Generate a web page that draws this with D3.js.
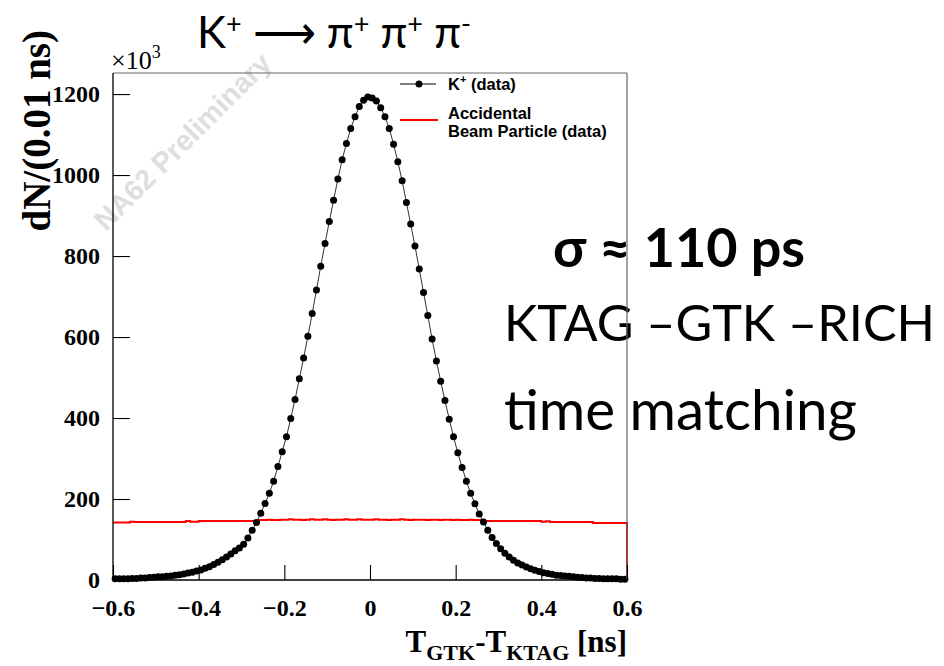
<!DOCTYPE html>
<html>
<head>
<meta charset="utf-8">
<script src="https://cdn.jsdelivr.net/npm/d3@7"></script>
<style>
  body { margin: 0; background: #fff; }
  svg { display: block; }
</style>
</head>
<body>
<svg id="chart" width="944" height="666"></svg>
<script>
// Histogram binning: 120 bins of 0.01 ns from -0.6 to 0.6 ns
const binLow = -0.6;
const binWidth = 0.01;

// K+ (data), entries per bin in units of 10^3
const kaonCounts = [
  3, 3, 3, 3, 4, 4, 5, 5, 6, 7,
  8, 8, 9, 10, 12, 13, 15, 17, 19, 22,
  25, 29, 33, 38, 44, 50, 57, 64, 72, 79,
  88, 104, 123, 142, 165, 189, 214, 244, 280, 317,
  354, 399, 446, 497, 548, 602, 658, 716, 775, 831,
  885, 938, 990, 1038, 1078, 1115, 1144, 1169, 1185, 1193,
  1190, 1183, 1166, 1144, 1115, 1076, 1033, 986, 932, 879,
  825, 768, 710, 653, 595, 541, 491, 443, 397, 354,
  314, 278, 244, 214, 188, 163, 143, 123, 105, 90,
  77, 66, 57, 49, 42, 37, 32, 28, 24, 21,
  18, 16, 14, 12, 11, 10, 9, 8, 7, 6,
  5, 5, 4, 4, 3, 3, 3, 3, 2, 2
];

// Accidental beam particle (data), entries per bin in units of 10^3
const accidentalCounts = [
  142, 142, 142, 142, 144, 143, 143, 143, 143, 143,
  143, 143, 143, 143, 143, 143, 143, 146, 144, 144,
  146, 146, 146, 146, 146, 146, 146, 146, 146, 146,
  146, 146, 146, 146, 148, 148, 149, 148, 148, 149,
  149, 150, 149, 149, 148, 149, 150, 149, 149, 150,
  149, 148, 149, 149, 150, 149, 149, 150, 149, 149,
  149, 150, 149, 149, 148, 149, 149, 150, 149, 148,
  149, 149, 149, 148, 149, 149, 148, 149, 149, 148,
  149, 148, 148, 149, 148, 148, 146, 146, 146, 146,
  146, 146, 146, 146, 146, 146, 146, 146, 146, 146,
  144, 145, 143, 143, 143, 143, 143, 143, 143, 143,
  143, 143, 141, 141, 141, 141, 141, 141, 141, 141
];

const xMajorTicks = [-0.6, -0.4, -0.2, 0, 0.2, 0.4, 0.6];
const yMajorTicks = [0, 200, 400, 600, 800, 1000, 1200];
const xMinorStep = 0.05;
const yMinorStep = 50;
const yMax = 1252;

const svg = d3.select("#chart");
const frame = { left: 113, right: 627, top: 73, bottom: 580 };

const x = d3.scaleLinear().domain([-0.6, 0.6]).range([frame.left, frame.right]);
const y = d3.scaleLinear().domain([0, yMax]).range([frame.bottom, frame.top]);

const serif = "'Liberation Serif', 'Times New Roman', serif";
const sans = "'Liberation Sans', Arial, sans-serif";
const slideFont = "Lato, 'Open Sans', 'Noto Sans', sans-serif";

// fit a text element's font size so that it spans the given width
function fitWidth(sel, width) {
  const node = sel.node();
  const fs = parseFloat(sel.attr("font-size"));
  const w = node.getComputedTextLength();
  sel.attr("font-size", (fs * width / w).toFixed(2));
}

// ---- slide annotations ----
const title = svg.append("text")
  .attr("x", 197).attr("y", 48)
  .attr("font-family", slideFont).attr("font-size", 38).attr("fill", "#000");
title.append("tspan").text("K");
title.append("tspan").attr("font-size", "0.62em").attr("dy", "-0.55em").text("+");
title.append("tspan").attr("dy", "0.34em").text(" \u27F6 \u03C0");
title.append("tspan").attr("font-size", "0.62em").attr("dy", "-0.55em").text("+");
title.append("tspan").attr("dy", "0.34em").text(" \u03C0");
title.append("tspan").attr("font-size", "0.62em").attr("dy", "-0.55em").text("+");
title.append("tspan").attr("dy", "0.34em").text(" \u03C0");
title.append("tspan").attr("font-size", "0.62em").attr("dy", "-0.55em").text("-");
fitWidth(title, 273);

const sigma = svg.append("text")
  .attr("x", 553).attr("y", 267)
  .attr("font-family", slideFont).attr("font-weight", "bold")
  .attr("font-size", 50).attr("fill", "#000")
  .text("\u03C3 \u2248 110 ps");
fitWidth(sigma, 252);

const line2 = svg.append("text")
  .attr("x", 504).attr("y", 341)
  .attr("font-family", slideFont).attr("font-size", 54).attr("fill", "#000")
  .text("KTAG \u2013GTK \u2013RICH");
fitWidth(line2, 431);

const line3 = svg.append("text")
  .attr("x", 504).attr("y", 430)
  .attr("font-family", slideFont).attr("font-size", 54).attr("fill", "#000")
  .text("time matching");
fitWidth(line3, 353);

// ---- watermark ----
const wm = svg.append("text")
  .attr("transform", "translate(106,232) rotate(-45)")
  .attr("font-family", sans).attr("font-weight", "bold")
  .attr("font-size", 28).attr("fill", "#dedede")
  .text("NA62 Preliminary");
fitWidth(wm, 236);

// ---- accidental histogram (step line) ----
const accPts = accidentalCounts.map((v, i) => [binLow + i * binWidth, v]);
const lastEdge = binLow + accidentalCounts.length * binWidth;
accPts.push([lastEdge, accidentalCounts[accidentalCounts.length - 1]]);
accPts.push([lastEdge, 0]);

const stepLine = d3.line()
  .x(d => x(d[0])).y(d => y(d[1]))
  .curve(d3.curveStepAfter);

svg.append("path")
  .attr("d", stepLine(accPts))
  .attr("fill", "none").attr("stroke", "#ff0000").attr("stroke-width", 2);

// ---- K+ data: line and markers at bin centres ----
const kaonPts = kaonCounts.map((v, i) => [binLow + (i + 0.5) * binWidth, v]);

svg.append("path")
  .attr("d", d3.line().x(d => x(d[0])).y(d => y(d[1]))(kaonPts))
  .attr("fill", "none").attr("stroke", "#333").attr("stroke-width", 1);

svg.append("g").selectAll("circle")
  .data(kaonPts).join("circle")
  .attr("cx", d => x(d[0])).attr("cy", d => y(d[1]))
  .attr("r", 3.5).attr("fill", "#000");

// ---- frame (top and right) ----
svg.append("line")
  .attr("x1", frame.left).attr("x2", frame.right)
  .attr("y1", frame.top).attr("y2", frame.top)
  .attr("stroke", "#666").attr("stroke-width", 1.2);
svg.append("line")
  .attr("x1", frame.right).attr("x2", frame.right)
  .attr("y1", frame.top).attr("y2", frame.bottom)
  .attr("stroke", "#666").attr("stroke-width", 1.2);

// ---- axes ----
const xMinor = d3.range(-0.6, 0.6 + 1e-9, xMinorStep);
const yMinor = d3.range(0, yMax, yMinorStep);

const fmtX = d => (Math.abs(d) < 1e-9 ? "0" : d3.format(".1f")(d));

const gx = svg.append("g").attr("transform", `translate(0,${frame.bottom})`);
gx.call(d3.axisBottom(x).tickValues(xMinor).tickSize(-8).tickFormat(""));
gx.call(d3.axisBottom(x).tickValues(xMajorTicks).tickSize(-15).tickPadding(19).tickFormat(fmtX));

const gy = svg.append("g").attr("transform", `translate(${frame.left},0)`);
gy.call(d3.axisLeft(y).tickValues(yMinor).tickSize(-8).tickFormat(""));
gy.call(d3.axisLeft(y).tickValues(yMajorTicks).tickSize(-17).tickPadding(13).tickFormat(d3.format("d")));

[gx, gy].forEach(g => {
  g.selectAll(".domain").attr("stroke", "#000").attr("stroke-width", 1.3);
  g.selectAll(".tick line").attr("stroke", "#000").attr("stroke-width", 1.1);
  g.selectAll("text")
    .attr("font-family", serif).attr("font-weight", "bold")
    .attr("font-size", 24).attr("fill", "#000");
});
gy.selectAll(".domain").attr("d", `M0,${frame.bottom}V${frame.top}`);
gx.selectAll(".domain").attr("d", `M${frame.left},0H${frame.right}`);

// exponent label
const expo = svg.append("text")
  .attr("x", 111).attr("y", 69)
  .attr("font-family", serif).attr("font-size", 26).attr("fill", "#000");
expo.append("tspan").text("\u00D710");
expo.append("tspan").attr("font-size", 18).attr("dy", -11).text("3");

// y title
svg.append("text")
  .attr("transform", "translate(50,30) rotate(-90)")
  .attr("text-anchor", "end")
  .attr("font-family", serif).attr("font-weight", "bold")
  .attr("font-size", 39).attr("fill", "#000")
  .text("dN/(0.01 ns)");

// x title
const xt = svg.append("text")
  .attr("x", 627).attr("y", 652)
  .attr("text-anchor", "end")
  .attr("font-family", serif).attr("font-weight", "bold")
  .attr("font-size", 31).attr("fill", "#000");
xt.append("tspan").text("T");
xt.append("tspan").attr("font-size", 22).attr("dy", 8).text("GTK");
xt.append("tspan").attr("dy", -8).text("-T");
xt.append("tspan").attr("font-size", 22).attr("dy", 8).text("KTAG");
xt.append("tspan").attr("dy", -8).text(" [ns]");

// ---- legend ----
const lg = svg.append("g");
lg.append("line").attr("x1", 400).attr("x2", 436).attr("y1", 84).attr("y2", 84)
  .attr("stroke", "#000").attr("stroke-width", 1);
lg.append("circle").attr("cx", 419).attr("cy", 84).attr("r", 3.5).attr("fill", "#000");
const l1 = lg.append("text").attr("x", 448).attr("y", 90)
  .attr("font-family", sans).attr("font-weight", "bold").attr("font-size", 16.5);
l1.append("tspan").text("K");
l1.append("tspan").attr("font-size", 11).attr("dy", -7).text("+");
l1.append("tspan").attr("dy", 7).text(" (data)");

lg.append("line").attr("x1", 400).attr("x2", 438).attr("y1", 120).attr("y2", 120)
  .attr("stroke", "#ff0000").attr("stroke-width", 2);
lg.append("text").attr("x", 448).attr("y", 119)
  .attr("font-family", sans).attr("font-weight", "bold").attr("font-size", 16.5)
  .text("Accidental");
lg.append("text").attr("x", 448).attr("y", 137)
  .attr("font-family", sans).attr("font-weight", "bold").attr("font-size", 16.5)
  .text("Beam Particle (data)");
</script>
</body>
</html>
